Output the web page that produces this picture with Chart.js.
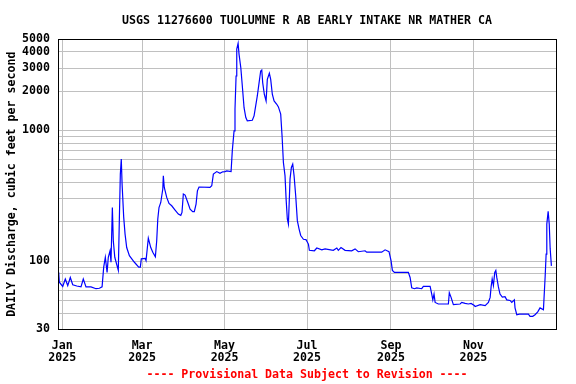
<!DOCTYPE HTML>
<html>
<head>
   <title>USGS 11276600</title>
   <script src="https://cdn.jsdelivr.net/npm/chart.js"></script>
   <style>
     body { margin: 0; background: #ffffff; }
     #box { width: 576px; height: 384px; }
   </style>
</head>
<body>
  <div id="box"><canvas id="myChart" width="576" height="384"></canvas></div>

  <script type="text/javascript">
    // day number counted from Jan 1 2025 (0), daily discharge in cfs
    var days = [-2.7, -2.2, 0.3, 2.2, 4.0, 5.9, 7.7, 10.7, 13.8, 15.5, 17.5, 21.2, 24.9, 27.4, 29.4,
      30.6, 31.8, 33.1, 34.0, 35.3, 36.0, 37.0, 37.7, 38.8, 40.5, 41.4, 42.2, 42.9, 43.6, 44.2,
      45.4, 46.4, 47.6, 49.6, 53.3, 56.5, 57.7, 58.4, 61.2, 61.9, 62.9, 63.6, 65.4, 66.9, 68.8,
      69.8, 70.6, 71.5, 72.8, 74.3, 74.7, 75.4, 77.2, 78.9, 80.9, 83.4, 85.8, 87.6, 88.5, 89.5,
      90.8, 92.8, 94.5, 96.4, 97.6, 98.9, 99.9, 101.1, 109.2, 110.5, 111.7, 114.2, 116.6, 118.6,
      120.3, 121.6, 124.8, 125.7, 127.0, 127.7, 128.5, 129.0, 130.0, 130.7, 132.0, 133.1, 134.4,
      135.7, 136.8, 140.5, 141.8, 143.0, 144.2, 145.5, 146.7, 147.5, 148.2, 149.4, 150.7, 151.6,
      153.1, 154.1, 155.3, 156.6, 158.6, 159.8, 161.5, 162.5, 163.5, 164.7, 165.5, 166.4, 167.2,
      167.7, 168.4, 169.4, 170.4, 171.4, 172.6, 173.8, 175.1, 176.3, 178.3, 180.2, 182.0, 182.7,
      186.4, 188.2, 191.9, 194.3, 200.4, 203.0, 204.1, 206.1, 209.1, 214.0, 216.5, 218.9, 223.9,
      225.1, 236.2, 238.7, 241.6, 243.1, 244.1, 245.6, 255.9, 257.2, 258.4, 260.4, 262.1, 265.8,
      267.0, 272.0, 273.2, 274.0, 274.9, 275.7, 278.1, 285.5, 286.2, 287.5, 289.2, 294.2, 295.4,
      297.9, 300.3, 302.3, 304.7, 305.3, 309.0, 312.7, 315.1, 316.4, 317.1, 317.9, 318.8, 319.8,
      320.6, 321.3, 322.5, 323.7, 325.4, 327.4, 328.7, 331.1, 332.4, 334.3, 334.8, 336.1, 338.0,
      344.7, 345.9, 347.9, 349.6, 351.6, 353.3, 355.8, 357.1, 357.8, 358.3, 359.3, 360.1, 360.8, 361.7];

    var cfs = [82, 69, 64, 73, 65, 75, 66, 64.5, 63.5, 73, 63.5, 63.5, 61.5, 62, 63.5,
      90, 107, 82, 107, 120, 98, 257, 143, 107, 92, 85, 216, 463, 603, 388,
      216, 161, 127, 110, 98, 90, 90, 104, 105, 101, 127, 150, 127, 117, 108,
      143, 210, 257, 281, 356, 449, 366, 307, 276, 265, 246, 229, 224, 236, 326,
      320, 281, 250, 239, 239, 273, 345, 369, 366, 377, 463, 484, 469, 482,
      484, 490, 484, 697, 990, 1452, 2607, 4188, 4634, 3820, 3017, 2196, 1492,
      1254, 1183, 1195, 1292, 1539, 1834, 2311, 2848, 2900, 2311, 1890, 1680, 2457,
      2736, 2457, 1890, 1680, 1585, 1512, 1331, 909, 568, 449, 298, 210, 192,
      265, 424, 520, 552, 449, 316, 204, 176, 157, 147, 146, 135, 121,
      120, 126, 122, 124, 121, 126, 121, 127, 121, 120, 124, 118, 120,
      117, 117, 122, 118, 101, 85, 82, 82, 75, 62.4, 61.5, 62.4, 61.5,
      64, 64, 56, 50.5, 56, 48.3, 47, 47, 57.3, 52.8, 46.5, 47, 48.3,
      47.5, 47, 47.5, 45.7, 45, 46.5, 45.7, 48.3, 52.8, 63.5, 73, 65, 82,
      85, 75, 63.5, 56, 53, 53.5, 50.5, 50, 48.3, 50.5, 43.9, 38.9, 39.3,
      39.3, 37.8, 37.8, 38.9, 40.9, 43.9, 42.5, 77, 113, 192, 240, 192, 124, 92];

    var monthTicks = [0, 59, 120, 181, 243, 304];
    var monthLabels = ["Jan", "Mar", "May", "Jul", "Sep", "Nov"];
    var yearLabel = "2025";
    var yGrid = [30, 40, 50, 60, 70, 80, 90, 100, 200, 300, 400, 500, 600, 700, 800, 900,
                 1000, 2000, 3000, 4000, 5000];
    var yShown = [30, 100, 1000, 2000, 3000, 4000, 5000];

    var points = [];
    for (var i = 0; i < days.length; i++) {
      points.push({x: days[i], y: cfs[i]});
    }

    var monoBold = {family: "'DejaVu Sans Mono', monospace", size: 11.6, weight: 'bold', lineHeight: 1.08};

    // black frame round the plot
    var framePlugin = {
      id: 'framePlugin',
      afterDraw: function (chart) {
        var a = chart.chartArea;
        var c = chart.ctx;
        c.save();
        c.strokeStyle = '#000000';
        c.lineWidth = 1;
        c.strokeRect(Math.round(a.left) + 0.5, Math.round(a.top) + 0.5,
                     Math.round(a.right - a.left), Math.round(a.bottom - a.top));
        c.restore();
      }
    };

    const ctx = document.getElementById('myChart');
    var myChart = new Chart(ctx, {
      type: 'line',
      data: {
        datasets: [{
          label: 'Discharge',
          data: points,
          borderColor: '#0000ff',
          borderWidth: 1.2,
          pointRadius: 0,
          tension: 0,
          fill: false
        }]
      },
      options: {
        responsive: false,
        animation: false,
        layout: { padding: { left: 0, right: 20, top: 0, bottom: 0 } },
        plugins: {
          legend: { display: false },
          tooltip: { enabled: false },
          title: {
            display: true,
            fullSize: false,
            text: 'USGS 11276600 TUOLUMNE R AB EARLY INTAKE NR MATHER CA',
            color: '#000000',
            font: monoBold,
            padding: { top: 14.5, bottom: 12 }
          },
          subtitle: {
            display: true,
            fullSize: false,
            position: 'bottom',
            text: '---- Provisional Data Subject to Revision ----',
            color: '#ff0000',
            font: monoBold,
            padding: { top: 0, bottom: 3 }
          }
        },
        scales: {
          x: {
            type: 'linear',
            min: -3.2,
            max: 365.1,
            afterBuildTicks: function (scale) {
              scale.ticks = monthTicks.map(function (v) { return {value: v}; });
            },
            afterFit: function (scale) { scale.height = 39; },
            grid: { color: '#c0c0c0', lineWidth: 1, drawTicks: false },
            border: { display: false },
            ticks: {
              color: '#000000',
              font: monoBold,
              padding: 10,
              maxRotation: 0,
              autoSkip: false,
              callback: function (value) {
                var k = monthTicks.indexOf(value);
                return k < 0 ? '' : [monthLabels[k], yearLabel];
              }
            }
          },
          y: {
            type: 'logarithmic',
            min: 30,
            max: 5000,
            afterBuildTicks: function (scale) {
              scale.ticks = yGrid.map(function (v) { return {value: v}; });
            },
            afterFit: function (scale) { scale.width = 58; },
            grid: { color: '#c0c0c0', lineWidth: 1, drawTicks: false },
            border: { display: false },
            title: {
              display: true,
              text: 'DAILY Discharge, cubic feet per second',
              color: '#000000',
              font: monoBold,
              padding: { top: 6, bottom: 0 }
            },
            ticks: {
              color: '#000000',
              font: monoBold,
              padding: 8,
              autoSkip: false,
              callback: function (value) {
                return yShown.indexOf(value) < 0 ? '' : String(value);
              }
            }
          }
        }
      },
      plugins: [framePlugin]
    });
  </script>
</body>
</html>
